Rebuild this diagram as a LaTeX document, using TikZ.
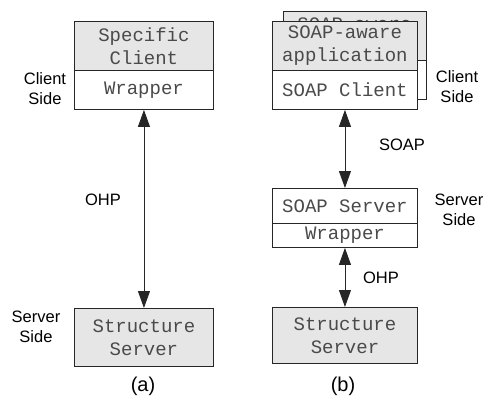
\documentclass[tikz,border=0pt]{standalone}
\usepackage{fontspec}
\setmainfont{Liberation Sans}
\setsansfont{Liberation Sans}
\setmonofont{Liberation Mono}
\usetikzlibrary{arrows.meta}
\definecolor{boxgray}{HTML}{E6E6E6}
\definecolor{codegray}{HTML}{4A4A4A}
\tikzset{
  box/.style={draw=black!85, line width=0.9pt, rectangle, anchor=north west,
    inner sep=0pt, align=center, text=codegray,
    font=\fontsize{19}{23}\selectfont\ttfamily},
  shaded/.style={box, fill=boxgray},
  plain/.style={box, fill=white},
  lbl/.style={align=center, font=\fontsize{16.5}{20}\selectfont\sffamily},
  caption/.style={font=\fontsize{20}{24}\selectfont\sffamily},
  link/.style={draw=black!85, line width=0.9pt,
    {Triangle[length=17pt,width=12pt]}-{Triangle[length=17pt,width=12pt]}}
}
\begin{document}
\begin{tikzpicture}[x=1pt,y=-1pt]
\useasboundingbox (0,0) rectangle (486,399);

% (a) direct client
\node[shaded, minimum width=139pt, minimum height=49pt] (sc) at (74,21) {Specific\\Client};
\node[plain, minimum width=139pt, minimum height=39pt] (wa) at (74,70) {Wrapper};
\node[shaded, minimum width=139pt, minimum height=58pt] (ssa) at (74,308) {Structure\\Server};
\draw[link] (wa.south) -- (ssa.north);
\node[lbl] (ohpa) at (103,200) {OHP};
\node[lbl] (csa) at (45,89) {Client\\Side};
\node[lbl] (ssla) at (36,327) {Server\\Side};
\node[caption] (capa) at (143,386) {(a)};

% (b) SOAP clients, the second one stacked behind
\node[shaded, minimum width=143pt, minimum height=49pt] (appback) at (283,11) {};
\node[plain, minimum width=143pt, minimum height=39pt] (clback) at (283,60) {};
\begin{scope}
  \clip (283,11) rectangle (426,21);
  \node[box, draw=none, anchor=base, minimum width=143pt] (appbacktext) at (354.5,30) {SOAP-aware};
\end{scope}
\node[shaded, minimum width=145pt, minimum height=49pt] (app) at (272,21) {SOAP-aware\\application};
\node[plain, minimum width=145pt, minimum height=39pt] (cl) at (272,70) {SOAP Client};
\node[plain, minimum width=145pt, minimum height=35pt] (srv) at (272,188) {SOAP Server};
\node[plain, minimum width=145pt, minimum height=24pt] (wb) at (272,223) {Wrapper};
\node[shaded, minimum width=145pt, minimum height=56pt] (ssb) at (272,307) {Structure\\Server};
\draw[link] (cl.south) -- (srv.north);
\draw[link] (wb.south) -- (ssb.north);
\node[lbl] (soap) at (402,145) {SOAP};
\node[lbl] (ohpb) at (381,278) {OHP};
\node[lbl] (csb) at (457,87) {Client\\Side};
\node[lbl] (sslb) at (459,210) {Server\\Side};
\node[caption] (capb) at (343,386) {(b)};
\end{tikzpicture}
\end{document}
